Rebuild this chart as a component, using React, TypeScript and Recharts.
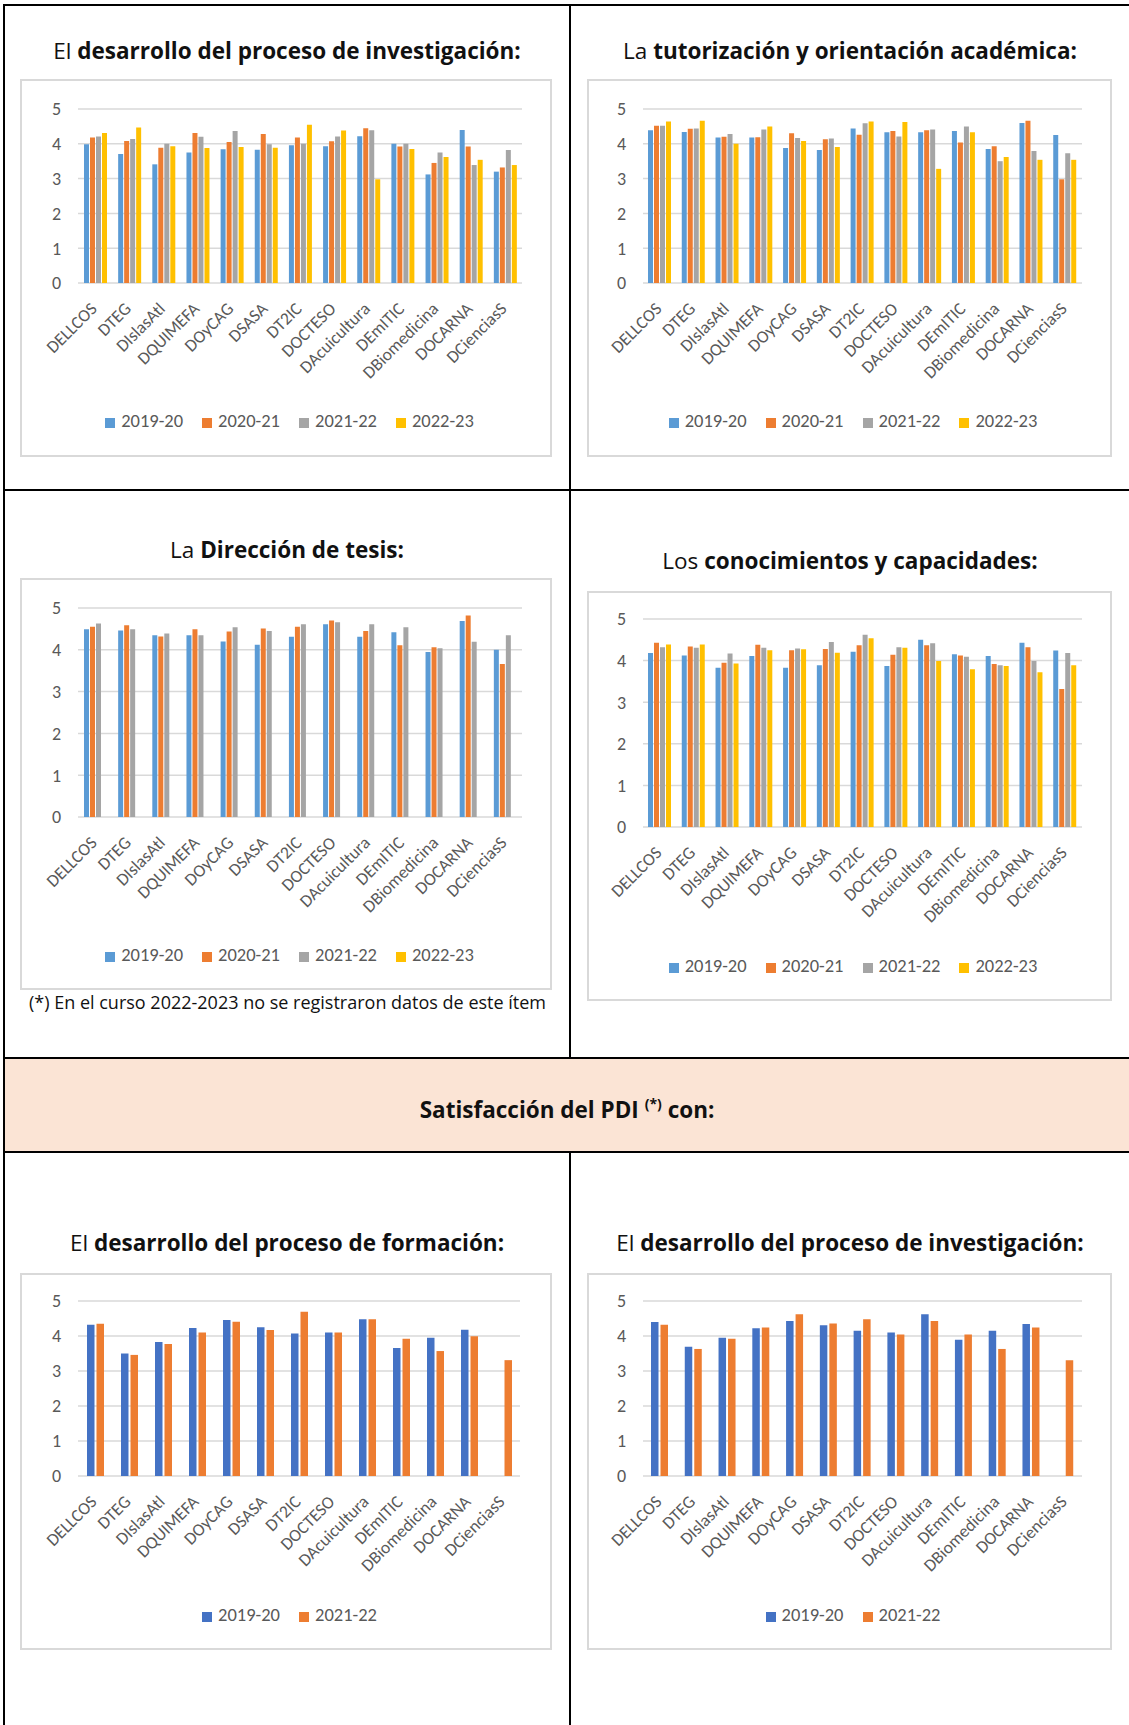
import { BarChart, Bar, XAxis, YAxis, CartesianGrid, Legend } from 'recharts';

const categories = ['DELLCOS', 'DTEG', 'DIslasAtl', 'DQUIMEFA', 'DOyCAG', 'DSASA', 'DT2IC', 'DOCTESO', 'DAcuicultura', 'DEmITIC', 'DBiomedicina', 'DOCARNA', 'DCienciasS'];
const yTicks = [0, 1, 2, 3, 4, 5];

// doctorandos: desarrollo del proceso de investigación
const inv1920 = [3.99, 3.71, 3.41, 3.75, 3.84, 3.83, 3.96, 3.93, 4.22, 4.0, 3.12, 4.4, 3.2];
const inv2021 = [4.18, 4.08, 3.89, 4.31, 4.05, 4.28, 4.18, 4.07, 4.45, 3.92, 3.45, 3.92, 3.32];
const inv2122 = [4.21, 4.14, 4.0, 4.2, 4.37, 3.99, 4.0, 4.21, 4.39, 4.0, 3.75, 3.39, 3.82];
const inv2223 = [4.31, 4.47, 3.93, 3.88, 3.91, 3.89, 4.55, 4.38, 2.98, 3.85, 3.62, 3.54, 3.39];

// tutorización y orientación académica
const tut1920 = [4.39, 4.34, 4.18, 4.18, 3.88, 3.82, 4.44, 4.33, 4.33, 4.37, 3.85, 4.6, 4.25];
const tut2021 = [4.52, 4.43, 4.2, 4.19, 4.3, 4.13, 4.26, 4.37, 4.39, 4.04, 3.93, 4.66, 2.98];
const tut2122 = [4.52, 4.44, 4.28, 4.41, 4.17, 4.15, 4.59, 4.21, 4.41, 4.5, 3.5, 3.79, 3.73];
const tut2223 = [4.64, 4.66, 4.0, 4.5, 4.08, 3.91, 4.64, 4.63, 3.28, 4.33, 3.62, 3.54, 3.54];

// dirección de tesis (sin 2022-23)
const dir1920 = [4.49, 4.46, 4.35, 4.35, 4.2, 4.12, 4.31, 4.61, 4.31, 4.42, 3.95, 4.69, 4.0];
const dir2021 = [4.55, 4.59, 4.32, 4.49, 4.44, 4.51, 4.55, 4.7, 4.45, 4.11, 4.06, 4.82, 3.66];
const dir2122 = [4.63, 4.49, 4.39, 4.35, 4.54, 4.45, 4.61, 4.66, 4.61, 4.54, 4.04, 4.19, 4.35];

// conocimientos y capacidades
const con1920 = [4.18, 4.12, 3.83, 4.11, 3.83, 3.89, 4.21, 3.87, 4.5, 4.15, 4.11, 4.43, 4.24];
const con2021 = [4.43, 4.34, 3.95, 4.38, 4.25, 4.28, 4.37, 4.14, 4.37, 4.12, 3.92, 4.32, 3.32];
const con2122 = [4.32, 4.31, 4.17, 4.31, 4.29, 4.45, 4.62, 4.32, 4.42, 4.09, 3.89, 3.99, 4.18];
const con2223 = [4.39, 4.39, 3.93, 4.25, 4.27, 4.19, 4.54, 4.31, 3.99, 3.79, 3.87, 3.72, 3.89];

// PDI: proceso de formación
const pdiFor1920 = [4.32, 3.5, 3.83, 4.23, 4.46, 4.25, 4.07, 4.1, 4.48, 3.66, 3.95, 4.18, null];
const pdiFor2122 = [4.35, 3.46, 3.77, 4.1, 4.41, 4.17, 4.69, 4.1, 4.48, 3.92, 3.57, 3.99, 3.31];

// PDI: proceso de investigación
const pdiInv1920 = [4.4, 3.69, 3.95, 4.22, 4.43, 4.31, 4.15, 4.1, 4.62, 3.89, 4.15, 4.34, null];
const pdiInv2122 = [4.32, 3.63, 3.92, 4.24, 4.62, 4.36, 4.48, 4.04, 4.43, 4.04, 3.63, 4.24, 3.31];

type Serie = { key: string; name: string; color: string; values: (number | null)[] };

const C_BLUE = '#5b9bd5';
const C_ORANGE = '#ed7d31';
const C_GRAY = '#a5a5a5';
const C_GOLD = '#ffc000';
const C_BLUE2 = '#4472c4';

const chartFont = "Carlito, Calibri, 'Liberation Sans', Arial, sans-serif";
const docFont = "'Open Sans', 'Noto Sans', sans-serif";

const BORDER = 2;
const X_AXIS_H = 110;
const Y_AXIS_W = 40;

const Grafico = ({ series, left, top, width, height, plot, legendTop, barSize, barGap }: any) => {
    const data = categories.map((cat, i) => {
        const row: any = { cat };
        series.forEach((s: Serie) => { row[s.key] = s.values[i]; });
        return row;
    });
    const w = width - BORDER * 2;
    const h = height - BORDER * 2;

    return (
        <div style={{ position: 'absolute', left, top, width, height, boxSizing: 'border-box', border: `${BORDER}px solid #d9d9d9`, background: '#fff' }}>
            <BarChart
                width={w}
                height={h}
                data={data}
                barGap={barGap}
                margin={{
                    top: plot.top - BORDER,
                    right: plot.right - BORDER,
                    left: plot.left - BORDER - Y_AXIS_W,
                    bottom: plot.bottom - BORDER - X_AXIS_H,
                }}
                style={{ fontFamily: chartFont }}
            >
                <CartesianGrid vertical={false} stroke="#d9d9d9" strokeWidth={1.5} />
                <XAxis
                    dataKey="cat"
                    interval={0}
                    height={X_AXIS_H}
                    axisLine={false}
                    tickLine={false}
                    tickMargin={12}
                    tick={{ angle: -45, textAnchor: 'end', fill: '#595959', fontSize: 17.5, dx: -6 }}
                />
                <YAxis
                    domain={[0, 5]}
                    ticks={yTicks}
                    width={Y_AXIS_W}
                    axisLine={false}
                    tickLine={false}
                    tickMargin={11}
                    tick={{ fill: '#595959', fontSize: 18 }}
                />
                <Legend
                    layout="horizontal"
                    align="center"
                    verticalAlign="middle"
                    iconType="square"
                    iconSize={10}
                    wrapperStyle={{ top: legendTop - BORDER, bottom: 'auto', left: 13, width: w, fontSize: 18.5 }}
                    formatter={(v: string) => <span style={{ color: '#595959', marginLeft: 2, marginRight: 9 }}>{v}</span>}
                />
                {series.map((s: Serie) => (
                    <Bar key={s.key} dataKey={s.key} name={s.name} fill={s.color} barSize={barSize} isAnimationActive={false} />
                ))}
            </BarChart>
        </div>
    );
};

const cuatro = (a: any[], b: any[], c: any[], d: any[]): Serie[] => [
    { key: 's1', name: '2019-20', color: C_BLUE, values: a },
    { key: 's2', name: '2020-21', color: C_ORANGE, values: b },
    { key: 's3', name: '2021-22', color: C_GRAY, values: c },
    { key: 's4', name: '2022-23', color: C_GOLD, values: d },
];

const Titulo = ({ left, width, top, pre, bold }: any) => (
    <div style={{ position: 'absolute', left, width, top, textAlign: 'center', fontFamily: docFont, fontSize: 22.5, color: '#111', lineHeight: '30px' }}>
        {pre}<b>{bold}</b>
    </div>
);

const Line = ({ left, top, width, height }: any) => (
    <div style={{ position: 'absolute', left, top, width, height, background: '#000' }} />
);

const App = () => {
    return (
        <div style={{ position: 'relative', width: 1129, height: 1725, background: '#fff', overflow: 'hidden' }}>
            <style>{'body{margin:0}'}</style>

            {/* banda PDI */}
            <div style={{ position: 'absolute', left: 5, top: 1059, width: 1124, height: 92, background: '#fbe4d5' }} />
            <div style={{ position: 'absolute', left: 5, width: 1124, top: 1089, textAlign: 'center', fontFamily: docFont, fontSize: 22.5, fontWeight: 'bold', lineHeight: '30px', color: '#111' }}>
                Satisfacción del PDI <sup style={{ fontSize: 14 }}>(*)</sup> con:
            </div>

            {/* tabla */}
            <Line left={3} top={4} width={1126} height={2} />
            <Line left={3} top={4} width={2} height={1721} />
            <Line left={569} top={4} width={2} height={1054} />
            <Line left={569} top={1151} width={2} height={574} />
            <Line left={3} top={489} width={1126} height={2} />
            <Line left={3} top={1057} width={1126} height={2} />
            <Line left={3} top={1151} width={1126} height={2} />

            <Titulo left={5} width={564} top={36} pre="El " bold="desarrollo del proceso de investigación:" />
            <Titulo left={571} width={558} top={36} pre="La " bold="tutorización y orientación académica:" />
            <Titulo left={5} width={564} top={535} pre="La " bold="Dirección de tesis:" />
            <Titulo left={571} width={558} top={546} pre="Los " bold="conocimientos y capacidades:" />
            <Titulo left={5} width={564} top={1228} pre="El " bold="desarrollo del proceso de formación:" />
            <Titulo left={571} width={558} top={1228} pre="El " bold="desarrollo del proceso de investigación:" />

            <Grafico
                series={cuatro(inv1920, inv2021, inv2122, inv2223)}
                left={20} top={79} width={532} height={378}
                plot={{ left: 58, right: 30, top: 30, bottom: 174 }}
                legendTop={330} barSize={5} barGap={1}
            />
            <Grafico
                series={cuatro(tut1920, tut2021, tut2122, tut2223)}
                left={587} top={79} width={525} height={378}
                plot={{ left: 56, right: 30, top: 30, bottom: 174 }}
                legendTop={330} barSize={5} barGap={1}
            />
            <Grafico
                series={[
                    { key: 's1', name: '2019-20', color: C_BLUE, values: dir1920 },
                    { key: 's2', name: '2020-21', color: C_ORANGE, values: dir2021 },
                    { key: 's3', name: '2021-22', color: C_GRAY, values: dir2122 },
                    { key: 's4', name: '2022-23', color: C_GOLD, values: categories.map(() => null) },
                ]}
                left={20} top={578} width={532} height={412}
                plot={{ left: 58, right: 30, top: 30, bottom: 173 }}
                legendTop={365} barSize={5} barGap={1}
            />
            <div style={{ position: 'absolute', left: 29, top: 990, fontFamily: docFont, fontSize: 18, color: '#111' }}>
                (*) En el curso 2022-2023 no se registraron datos de este ítem
            </div>
            <Grafico
                series={cuatro(con1920, con2021, con2122, con2223)}
                left={587} top={591} width={525} height={410}
                plot={{ left: 56, right: 30, top: 28, bottom: 174 }}
                legendTop={363} barSize={5} barGap={1}
            />
            <Grafico
                series={[
                    { key: 's1', name: '2019-20', color: C_BLUE2, values: pdiFor1920 },
                    { key: 's2', name: '2021-22', color: C_ORANGE, values: pdiFor2122 },
                ]}
                left={20} top={1273} width={532} height={377}
                plot={{ left: 58, right: 32, top: 28, bottom: 174 }}
                legendTop={330} barSize={7.5} barGap={2}
            />
            <Grafico
                series={[
                    { key: 's1', name: '2019-20', color: C_BLUE2, values: pdiInv1920 },
                    { key: 's2', name: '2021-22', color: C_ORANGE, values: pdiInv2122 },
                ]}
                left={587} top={1273} width={525} height={377}
                plot={{ left: 56, right: 30, top: 28, bottom: 174 }}
                legendTop={330} barSize={7.5} barGap={2}
            />
        </div>
    );
};

export default App;
